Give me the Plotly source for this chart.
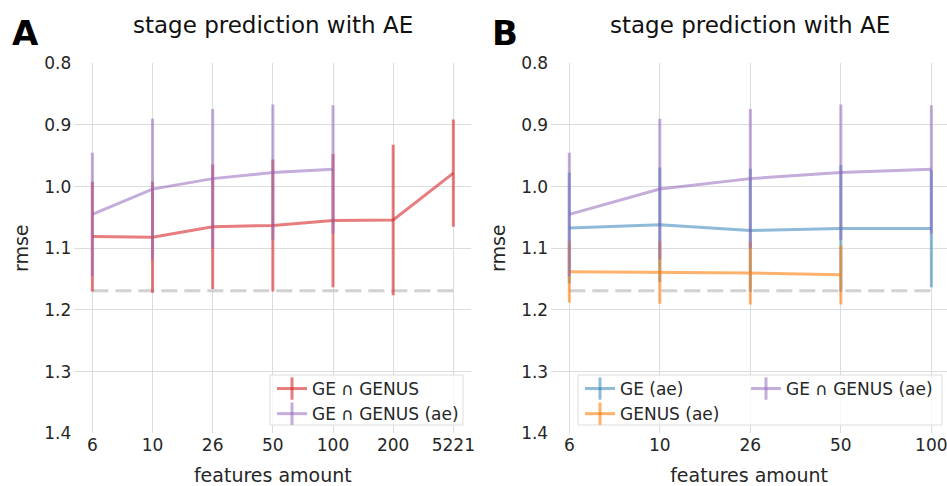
import plotly.graph_objects as go

# ---------------- data ----------------
categories_A = ["6", "10", "26", "50", "100", "200", "5221"]
categories_B = ["6", "10", "26", "50", "100"]
categories_genus = ["6", "10", "26", "50"]

ge_genus_mean = [1.081, 1.082, 1.065, 1.063, 1.055, 1.054, 0.978]
ge_genus_err = [0.089, 0.090, 0.101, 0.107, 0.108, 0.122, 0.087]

ge_genus_ae_mean = [1.045, 1.004, 0.987, 0.977, 0.972]
ge_genus_ae_err = [0.100, 0.114, 0.113, 0.110, 0.104]

ge_ae_mean = [1.067, 1.062, 1.071, 1.068, 1.068]
ge_ae_err = [0.090, 0.093, 0.100, 0.103, 0.095]

genus_ae_mean = [1.138, 1.139, 1.140, 1.143]
genus_ae_err = [0.050, 0.051, 0.051, 0.048]

baseline_rmse = 1.169

y_ticks = [0.8, 0.9, 1.0, 1.1, 1.2, 1.3, 1.4]

# ---------------- styles ----------------
RED = "rgba(214,39,40,0.6)"
PURPLE = "rgba(148,103,189,0.55)"
BLUE = "rgba(31,119,180,0.5)"
ORANGE = "rgba(255,127,14,0.6)"
GRAY = "rgba(190,190,190,0.7)"
FONT = "DejaVu Sans"
TXT = "#262626"

W, H = 947, 486

fig = go.Figure()


def add_series(x, y, err, color, xa, ya):
    fig.add_trace(go.Scatter(
        x=x, y=y, mode="lines", xaxis=xa, yaxis=ya, showlegend=False,
        line=dict(color=color, width=3),
        error_y=dict(type="data", array=err, visible=True, color=color,
                     thickness=3, width=0),
        hoverinfo="x+y",
    ))


def add_legend_entry(name, color, legend):
    fig.add_trace(go.Scatter(
        x=[None], y=[None], mode="lines+markers", name=name, legend=legend,
        line=dict(color=color, width=3),
        marker=dict(symbol="line-ns", size=16,
                    line=dict(color=color, width=3), color=color),
    ))


def add_baseline(cats, xa, ya):
    fig.add_trace(go.Scatter(
        x=[cats[0], cats[-1]], y=[baseline_rmse, baseline_rmse],
        mode="lines", xaxis=xa, yaxis=ya, showlegend=False,
        line=dict(color=GRAY, width=3, dash="16px,7px"), hoverinfo="skip",
    ))


# Panel A
add_baseline(categories_A, "x", "y")
add_series(categories_A, ge_genus_mean, ge_genus_err, RED, "x", "y")
add_series(categories_B, ge_genus_ae_mean, ge_genus_ae_err, PURPLE, "x", "y")

# Panel B
add_baseline(categories_B, "x2", "y2")
add_series(categories_B, ge_ae_mean, ge_ae_err, BLUE, "x2", "y2")
add_series(categories_genus, genus_ae_mean, genus_ae_err, ORANGE, "x2", "y2")
add_series(categories_B, ge_genus_ae_mean, ge_genus_ae_err, PURPLE, "x2", "y2")

# legend entries
add_legend_entry("GE ∩ GENUS", RED, "legend")
add_legend_entry("GE ∩ GENUS (ae)", PURPLE, "legend")
add_legend_entry("GE (ae)", BLUE, "legend2")
add_legend_entry("GENUS (ae)", ORANGE, "legend2")
add_legend_entry("GE ∩ GENUS (ae)", PURPLE, "legend3")

ydom = [1 - 433.3 / H, 1 - 63.3 / H]

tickfont = dict(family=FONT, size=17, color=TXT)
titlefont = dict(family=FONT, size=19, color=TXT)
axis_common = dict(
    showgrid=True, gridcolor="#dcdcdc", gridwidth=1, zeroline=False,
    showline=False, ticks="", tickfont=tickfont, automargin=False,
)

legend_common = dict(
    font=dict(family=FONT, size=17, color=TXT), itemwidth=30,
    tracegroupgap=0, bgcolor="rgba(0,0,0,0)", borderwidth=0,
    xanchor="left", yanchor="top", y=1 - 371 / H,
)

frame = dict(type="rect", xref="paper", yref="paper",
             fillcolor="rgba(255,255,255,0.8)",
             line=dict(color="#dddddd", width=1), layer="above")

fig.update_layout(
    width=W, height=H,
    margin=dict(l=0, r=0, t=0, b=0, autoexpand=False),
    paper_bgcolor="white", plot_bgcolor="white",
    font=dict(family=FONT, color=TXT),
    xaxis=dict(domain=[74.3 / W, 471.4 / W], type="category",
               categoryorder="array", categoryarray=categories_A,
               range=[-0.3, 6.3], anchor="y", ticklabelstandoff=0,
               title=dict(text="features amount", standoff=16, font=titlefont),
               **axis_common),
    yaxis=dict(domain=ydom, range=[1.4, 0.8], tickvals=y_ticks,
               ticktext=[f"{v:.1f}" for v in y_ticks], anchor="x",
               ticklabelstandoff=2,
               title=dict(text="rmse", standoff=10, font=titlefont),
               **axis_common),
    xaxis2=dict(domain=[551.2 / W, 1.0], type="category",
                categoryorder="array", categoryarray=categories_B,
                range=[-0.2, 4.173], anchor="y2", ticklabelstandoff=0,
                title=dict(text="features amount", standoff=16, font=titlefont),
                **axis_common),
    yaxis2=dict(domain=ydom, range=[1.4, 0.8], tickvals=y_ticks,
                ticktext=[f"{v:.1f}" for v in y_ticks], anchor="x2",
                ticklabelstandoff=2,
                title=dict(text="rmse", standoff=10, font=titlefont),
                **axis_common),
    legend=dict(x=272 / W, **legend_common),
    legend2=dict(x=580 / W, **legend_common),
    legend3=dict(x=746 / W, **legend_common),
    shapes=[
        dict(x0=270 / W, x1=463 / W, y0=1 - 425 / H, y1=1 - 375 / H, **frame),
        dict(x0=578 / W, x1=942 / W, y0=1 - 425 / H, y1=1 - 375 / H, **frame),
    ],
    annotations=[
        dict(text="stage prediction with AE", x=(74.3 + 471.4) / 2 / W,
             y=1 - 25 / H, xref="paper", yref="paper", showarrow=False,
             xanchor="center", yanchor="middle",
             font=dict(family=FONT, size=23, color="#111111")),
        dict(text="stage prediction with AE", x=(551.2 + 949.4) / 2 / W,
             y=1 - 25 / H, xref="paper", yref="paper", showarrow=False,
             xanchor="center", yanchor="middle",
             font=dict(family=FONT, size=23, color="#111111")),
        dict(text="<b>A</b>", x=10 / W, y=1 - 33 / H, xref="paper",
             yref="paper", showarrow=False, xanchor="left", yanchor="middle",
             font=dict(family=FONT, size=34, color="black")),
        dict(text="<b>B</b>", x=490 / W, y=1 - 33 / H, xref="paper",
             yref="paper", showarrow=False, xanchor="left", yanchor="middle",
             font=dict(family=FONT, size=34, color="black")),
    ],
)

fig.write_html("out.html")
